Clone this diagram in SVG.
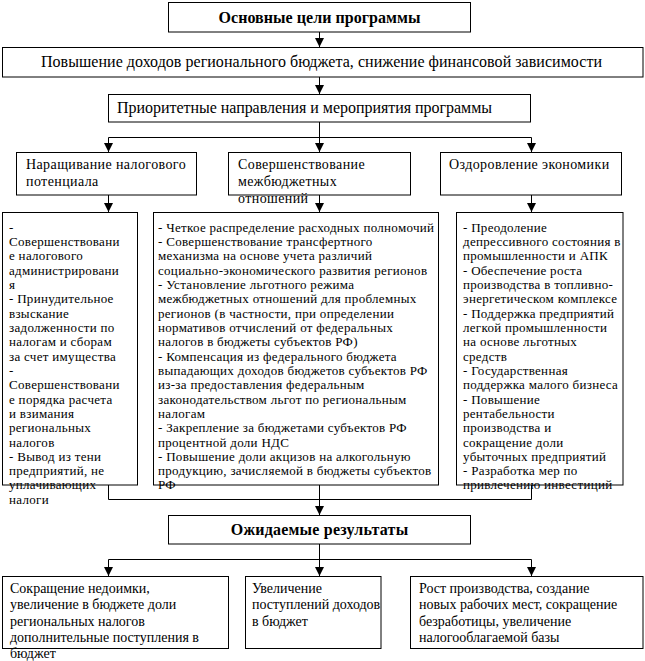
<svg xmlns="http://www.w3.org/2000/svg" width="645" height="661" viewBox="0 0 645 661">
<defs>
<marker id="ah" markerUnits="userSpaceOnUse" markerWidth="9" markerHeight="10" refX="9" refY="4.5" orient="auto">
<path d="M0,0 L9,4.5 L0,9 Z" fill="#000"/>
</marker>
<style>
rect{fill:#fff;stroke:#000;stroke-width:1}
#connectors path{fill:none;stroke:#000;stroke-width:1}
</style>
</defs>
<g id="connectors">
<path d="M319.5,32 V47" marker-end="url(#ah)"/>
<path d="M319.5,77 V94" marker-end="url(#ah)"/>
<path d="M319.5,122 V137.5 M108.5,137.5 H531.5"/>
<path d="M108.5,137.5 V152" marker-end="url(#ah)"/>
<path d="M319.5,137.5 V152" marker-end="url(#ah)"/>
<path d="M531.5,137.5 V152" marker-end="url(#ah)"/>
<path d="M108.5,195 V212" marker-end="url(#ah)"/>
<path d="M319.5,195 V212" marker-end="url(#ah)"/>
<path d="M531.5,195 V212" marker-end="url(#ah)"/>
<path d="M108.5,485 V499.5 H531.5 V485 M319.5,485 V499.5"/>
<path d="M319.5,499.5 V515" marker-end="url(#ah)"/>
<path d="M319.5,544 V559.5 M108.5,559.5 H531.5"/>
<path d="M108.5,559.5 V576" marker-end="url(#ah)"/>
<path d="M319.5,559.5 V576" marker-end="url(#ah)"/>
<path d="M531.5,559.5 V576" marker-end="url(#ah)"/>
</g>
<g id="goals">
<rect x="168.5" y="2.5" width="302" height="29.5"/>
<text font-family="Liberation Serif" style="font-family:'Liberation Serif',serif" font-size="16" font-weight="bold" text-anchor="middle" x="319.5" y="23" textLength="202" lengthAdjust="spacing">Основные цели программы</text>
</g>
<g id="income">
<rect x="2.5" y="47.5" width="640.5" height="29.5"/>
<text font-family="Liberation Serif" style="font-family:'Liberation Serif',serif" font-size="16" x="41" y="67" textLength="561" lengthAdjust="spacing">Повышение доходов регионального бюджета, снижение финансовой зависимости</text>
</g>
<g id="priorities">
<rect x="108.5" y="94.5" width="422" height="27.5"/>
<text font-family="Liberation Serif" style="font-family:'Liberation Serif',serif" font-size="16" x="117" y="113" textLength="375" lengthAdjust="spacing">Приоритетные направления и мероприятия программы</text>
</g>
<g id="tax-potential">
<rect x="16.5" y="152.5" width="180" height="42.5"/>
<text font-family="Liberation Serif" style="font-family:'Liberation Serif',serif" font-size="14" letter-spacing="0.4">
<tspan x="26" y="169">Наращивание налогового</tspan>
<tspan x="26" y="186">потенциала</tspan>
</text>
</g>
<g id="interbudget">
<rect x="228.5" y="152.5" width="182" height="42.5"/>
<text font-family="Liberation Serif" style="font-family:'Liberation Serif',serif" font-size="14" letter-spacing="0.4">
<tspan x="238" y="169">Совершенствование</tspan>
<tspan x="238" y="186">межбюджетных</tspan>
<tspan x="238" y="203">отношений</tspan>
</text>
</g>
<g id="economy">
<rect x="440.5" y="152.5" width="181" height="42.5"/>
<text font-family="Liberation Serif" style="font-family:'Liberation Serif',serif" font-size="14" letter-spacing="0.4" x="449" y="169">Оздоровление экономики</text>
</g>
<g id="tax-measures">
<rect x="2.5" y="212.5" width="135" height="272.5"/>
<text font-family="Liberation Serif" style="font-family:'Liberation Serif',serif" font-size="13" letter-spacing="0.3">
<tspan x="9" y="231.5">-</tspan>
<tspan x="9" y="245.8">Совершенствовани</tspan>
<tspan x="9" y="260.2">е налогового</tspan>
<tspan x="9" y="274.5">администрировани</tspan>
<tspan x="9" y="288.8">я</tspan>
<tspan x="9" y="303.2">- Принудительное</tspan>
<tspan x="9" y="317.5">взыскание</tspan>
<tspan x="9" y="331.8">задолженности по</tspan>
<tspan x="9" y="346.1">налогам и сборам</tspan>
<tspan x="9" y="360.5">за счет имущества</tspan>
<tspan x="9" y="374.8">-</tspan>
<tspan x="9" y="389.1">Совершенствовани</tspan>
<tspan x="9" y="403.5">е порядка расчета</tspan>
<tspan x="9" y="417.8">и взимания</tspan>
<tspan x="9" y="432.1">региональных</tspan>
<tspan x="9" y="446.5">налогов</tspan>
<tspan x="9" y="460.8">- Вывод из тени</tspan>
<tspan x="9" y="475.1">предприятий, не</tspan>
<tspan x="9" y="489.4">уплачивающих</tspan>
<tspan x="9" y="503.8">налоги</tspan>
</text>
</g>
<g id="interbudget-measures">
<rect x="153.5" y="212.5" width="285" height="272.5"/>
<text font-family="Liberation Serif" style="font-family:'Liberation Serif',serif" font-size="13" letter-spacing="0.3">
<tspan x="158" y="231.5">- Четкое распределение расходных полномочий</tspan>
<tspan x="158" y="245.8">- Совершенствование трансфертного</tspan>
<tspan x="158" y="260.2">механизма на основе учета различий</tspan>
<tspan x="158" y="274.5">социально-экономического развития регионов</tspan>
<tspan x="158" y="288.8">- Установление льготного режима</tspan>
<tspan x="158" y="303.2">межбюджетных отношений для проблемных</tspan>
<tspan x="158" y="317.5">регионов (в частности, при определении</tspan>
<tspan x="158" y="331.8">нормативов отчислений от федеральных</tspan>
<tspan x="158" y="346.1">налогов в бюджеты субъектов РФ)</tspan>
<tspan x="158" y="360.5">- Компенсация из федерального бюджета</tspan>
<tspan x="158" y="374.8">выпадающих доходов бюджетов субъектов РФ</tspan>
<tspan x="158" y="389.1">из-за предоставления федеральным</tspan>
<tspan x="158" y="403.5">законодательством льгот по региональным</tspan>
<tspan x="158" y="417.8">налогам</tspan>
<tspan x="158" y="432.1">- Закрепление за бюджетами субъектов РФ</tspan>
<tspan x="158" y="446.5">процентной доли НДС</tspan>
<tspan x="158" y="460.8">- Повышение доли акцизов на алкогольную</tspan>
<tspan x="158" y="475.1">продукцию, зачисляемой в бюджеты субъектов</tspan>
<tspan x="158" y="489.4">РФ</tspan>
</text>
</g>
<g id="economy-measures">
<rect x="456.5" y="212.5" width="166.5" height="272.5"/>
<text font-family="Liberation Serif" style="font-family:'Liberation Serif',serif" font-size="13" letter-spacing="0.3">
<tspan x="463" y="231.5">- Преодоление</tspan>
<tspan x="463" y="245.8">депрессивного состояния в</tspan>
<tspan x="463" y="260.2">промышленности и АПК</tspan>
<tspan x="463" y="274.5">- Обеспечение роста</tspan>
<tspan x="463" y="288.8">производства в топливно-</tspan>
<tspan x="463" y="303.2">энергетическом комплексе</tspan>
<tspan x="463" y="317.5">- Поддержка предприятий</tspan>
<tspan x="463" y="331.8">легкой промышленности</tspan>
<tspan x="463" y="346.1">на основе льготных</tspan>
<tspan x="463" y="360.5">средств</tspan>
<tspan x="463" y="374.8">- Государственная</tspan>
<tspan x="463" y="389.1">поддержка малого бизнеса</tspan>
<tspan x="463" y="403.5">- Повышение</tspan>
<tspan x="463" y="417.8">рентабельности</tspan>
<tspan x="463" y="432.1">производства и</tspan>
<tspan x="463" y="446.5">сокращение доли</tspan>
<tspan x="463" y="460.8">убыточных предприятий</tspan>
<tspan x="463" y="475.1">- Разработка мер по</tspan>
<tspan x="463" y="489.4">привлечению инвестиций</tspan>
</text>
</g>
<g id="results">
<rect x="168.5" y="515.5" width="302" height="28.5"/>
<text font-family="Liberation Serif" style="font-family:'Liberation Serif',serif" font-size="16" font-weight="bold" text-anchor="middle" x="319.5" y="535" letter-spacing="0.2">Ожидаемые результаты</text>
</g>
<g id="result-arrears">
<rect x="2.5" y="576.5" width="226" height="72"/>
<text font-family="Liberation Serif" style="font-family:'Liberation Serif',serif" font-size="14">
<tspan x="10" y="593">Сокращение недоимки,</tspan>
<tspan x="10" y="609.3">увеличение в бюджете доли</tspan>
<tspan x="10" y="625.6">региональных налогов</tspan>
<tspan x="10" y="642">дополнительные поступления в</tspan>
<tspan x="10" y="658">бюджет</tspan>
</text>
</g>
<g id="result-revenue">
<rect x="245.5" y="576.5" width="135.5" height="72"/>
<text font-family="Liberation Serif" style="font-family:'Liberation Serif',serif" font-size="14">
<tspan x="252" y="593">Увеличение</tspan>
<tspan x="252" y="609.3">поступлений доходов</tspan>
<tspan x="252" y="625.6">в бюджет</tspan>
</text>
</g>
<g id="result-growth">
<rect x="410.5" y="576.5" width="232.5" height="72"/>
<text font-family="Liberation Serif" style="font-family:'Liberation Serif',serif" font-size="14">
<tspan x="419" y="593">Рост производства, создание</tspan>
<tspan x="419" y="609.3">новых рабочих мест, сокращение</tspan>
<tspan x="419" y="625.6">безработицы, увеличение</tspan>
<tspan x="419" y="642">налогооблагаемой базы</tspan>
</text>
</g>
</svg>
